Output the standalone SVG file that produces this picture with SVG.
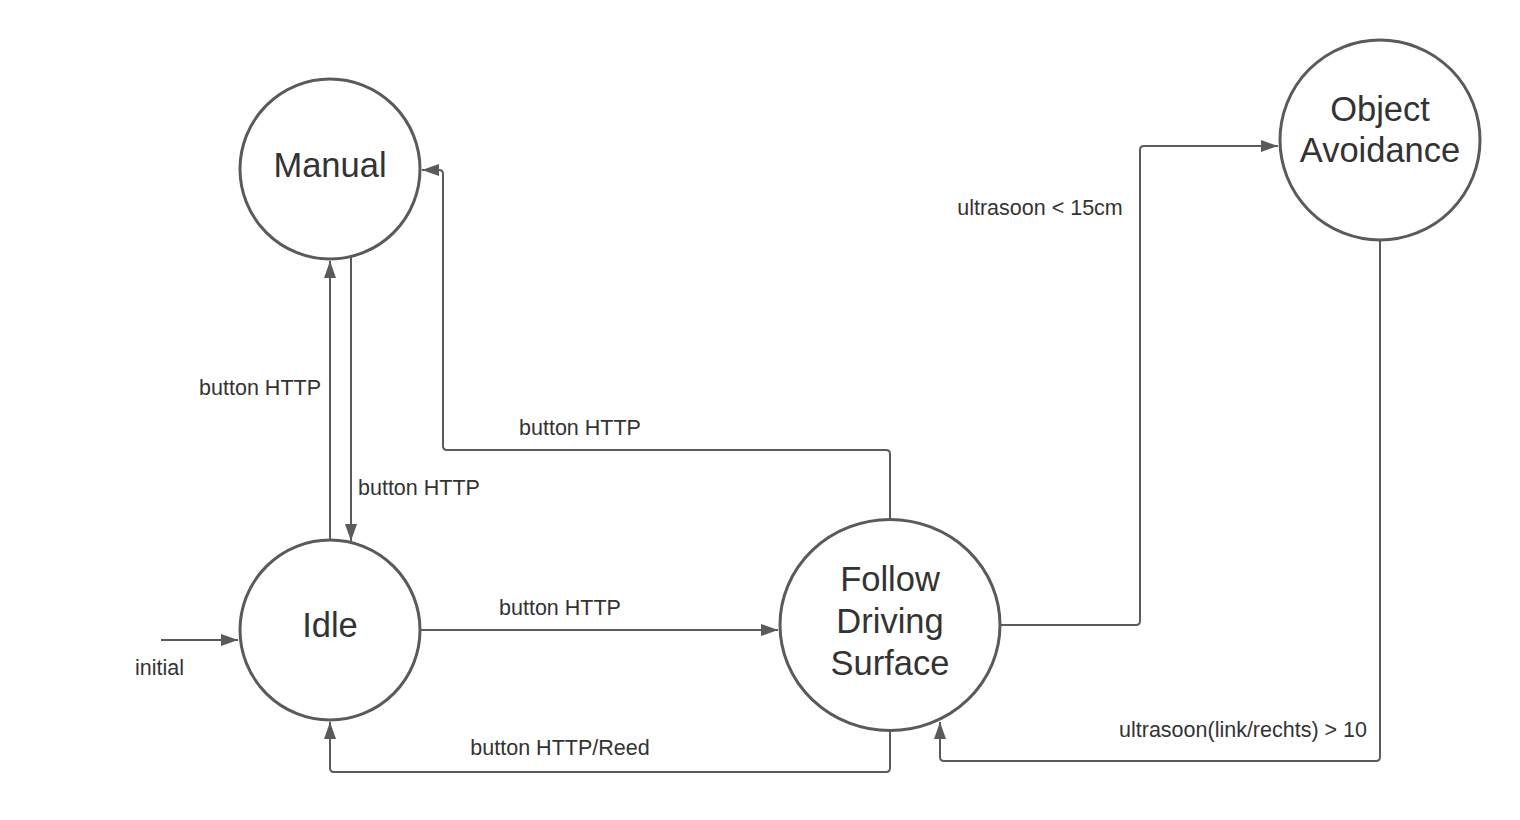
<svg xmlns="http://www.w3.org/2000/svg" width="1520" height="820" viewBox="0 0 1520 820">
<style>
.node{fill:#ffffff;stroke:#5a5a5a;stroke-width:3}
.ntext{font-family:"Liberation Sans",Arial,sans-serif;font-size:34.5px;fill:#333333;text-anchor:middle}
.edge{fill:none;stroke:#5a5a5a;stroke-width:2;stroke-linejoin:round}
.label{font-family:"Liberation Sans",Arial,sans-serif;font-size:21.5px;fill:#333333}
</style>
<defs>
<marker id="arrow" markerUnits="userSpaceOnUse" markerWidth="20" markerHeight="14" refX="17" refY="6" orient="auto">
<path d="M0,0 L17,6 L0,12 Z" fill="#5a5a5a"/>
</marker>
</defs>
<rect width="1520" height="820" fill="#ffffff"/>
<g id="connectors">
<path class="edge" d="M161,640 L238,640" marker-end="url(#arrow)"/>
<path class="edge" d="M330,540 L330,261" marker-end="url(#arrow)"/>
<path class="edge" d="M351,257 L351,541" marker-end="url(#arrow)"/>
<path class="edge" d="M420,630 L778,630" marker-end="url(#arrow)"/>
<path class="edge" d="M890,520 L890,454 Q890,450 886,450 L447,450 Q443,450 443,446 L443,174 Q443,170 439,170 L422,170" marker-end="url(#arrow)"/>
<path class="edge" d="M890,730 L890,768 Q890,772 886,772 L334,772 Q330,772 330,768 L330,722" marker-end="url(#arrow)"/>
<path class="edge" d="M1000,625 L1136,625 Q1140,625 1140,621 L1140,150 Q1140,146 1144,146 L1278,146" marker-end="url(#arrow)"/>
<path class="edge" d="M1380,240 L1380,757 Q1380,761 1376,761 L944,761 Q940,761 940,757 L940,722" marker-end="url(#arrow)"/>
<text class="label" x="135" y="675">initial</text>
<text class="label" x="321" y="395" text-anchor="end">button HTTP</text>
<text class="label" x="358" y="495">button HTTP</text>
<text class="label" x="580" y="435" text-anchor="middle">button HTTP</text>
<text class="label" x="560" y="615" text-anchor="middle">button HTTP</text>
<text class="label" x="560" y="755" text-anchor="middle">button HTTP/Reed</text>
<text class="label" x="1040" y="215" text-anchor="middle">ultrasoon &lt; 15cm</text>
<text class="label" x="1367" y="737" text-anchor="end">ultrasoon(link/rechts) &gt; 10</text>
</g>
<g id="manual">
<circle class="node" cx="330" cy="169" r="90"/>
<text class="ntext" x="330" y="177">Manual</text>
</g>
<g id="idle">
<circle class="node" cx="330" cy="630" r="90"/>
<text class="ntext" x="330" y="637">Idle</text>
</g>
<g id="follow">
<ellipse class="node" cx="890" cy="625" rx="110" ry="105.5"/>
<text class="ntext" x="890" y="591">Follow</text>
<text class="ntext" x="890" y="633">Driving</text>
<text class="ntext" x="890" y="675">Surface</text>
</g>
<g id="avoidance">
<circle class="node" cx="1380" cy="140" r="100"/>
<text class="ntext" x="1380" y="121">Object</text>
<text class="ntext" x="1380" y="162">Avoidance</text>
</g>
</svg>
